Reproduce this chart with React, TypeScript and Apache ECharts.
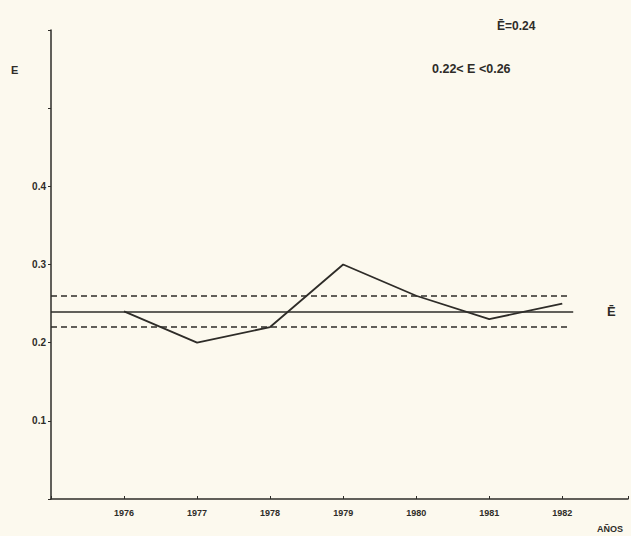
import React, { useEffect, useRef } from "react";
import * as echarts from "echarts";

const years = [1976, 1977, 1978, 1979, 1980, 1981, 1982];
const eValues = [0.24, 0.2, 0.22, 0.3, 0.26, 0.23, 0.25];
const meanE = 0.24;
const lowerE = 0.22;
const upperE = 0.26;
const yTickLabels = [0.1, 0.2, 0.3, 0.4];

const ink = "#2e2c28";

export default function App() {
  const ref = useRef<HTMLDivElement>(null);
  useEffect(() => {
    if (!ref.current) return;
    const chart = echarts.init(ref.current, null, { renderer: "svg" });
    const lineStart = 1975;
    const lineEnd = 1982.15;
    chart.setOption({
      animation: false,
      backgroundColor: "#fcf9ee",
      grid: { left: 51, right: 0, top: 30, bottom: 37 },
      xAxis: {
        type: "value",
        min: 1975,
        max: 1982.9,
        interval: 1,
        axisLine: { show: true, lineStyle: { color: ink, width: 1.5 } },
        axisTick: { show: true, length: 3, inside: true, lineStyle: { color: ink } },
        splitLine: { show: false },
        axisLabel: {
          color: ink,
          fontSize: 9,
          fontWeight: "bold",
          fontFamily: "Liberation Sans",
          margin: 9,
          formatter: (v: number) => (years.includes(Math.round(v)) && Math.abs(v - Math.round(v)) < 1e-6 ? String(Math.round(v)) : ""),
        },
      },
      yAxis: {
        type: "value",
        min: 0,
        max: 0.6,
        interval: 0.1,
        axisLine: { show: true, lineStyle: { color: ink, width: 1.5 } },
        axisTick: { show: true, length: 3, lineStyle: { color: ink } },
        splitLine: { show: false },
        axisLabel: {
          color: ink,
          fontSize: 10,
          fontWeight: "bold",
          fontFamily: "Liberation Sans",
          margin: 5,
          formatter: (v: number) => {
            const r = Math.round(v * 10) / 10;
            return yTickLabels.includes(r) ? r.toFixed(1) : "";
          },
        },
      },
      series: [
        {
          type: "line",
          data: years.map((y, i) => [y, eValues[i]]),
          symbol: "none",
          lineStyle: { color: ink, width: 1.8 },
          markLine: {
            silent: true,
            symbol: "none",
            data: [
              [
                { coord: [lineStart, meanE], lineStyle: { type: "solid", color: ink, width: 1.5 } },
                { coord: [lineEnd, meanE] },
              ],
              [
                { coord: [lineStart, upperE], lineStyle: { type: [6, 4], color: ink, width: 1.5 } },
                { coord: [lineEnd - 0.05, upperE] },
              ],
              [
                { coord: [lineStart, lowerE], lineStyle: { type: [6, 4], color: ink, width: 1.5 } },
                { coord: [lineEnd - 0.05, lowerE] },
              ],
            ],
            label: { show: false },
          },
        },
      ],
      graphic: [
        {
          type: "text",
          left: 11,
          top: 64,
          style: { text: "E", fill: ink, font: "bold 11px Liberation Sans" },
        },
        {
          type: "text",
          left: 607,
          top: 305,
          style: { text: "Ē", fill: ink, font: "bold 13px Liberation Sans" },
        },
        {
          type: "text",
          left: 497,
          top: 20,
          style: { text: "Ē=0.24", fill: ink, font: "bold 12px Liberation Sans" },
        },
        {
          type: "text",
          left: 432,
          top: 62,
          style: { text: "0.22< E <0.26", fill: ink, font: "bold 12.5px Liberation Sans" },
        },
        {
          type: "text",
          left: 597,
          top: 524,
          style: { text: "AÑOS", fill: ink, font: "bold 9px Liberation Sans" },
        },
      ],
    });
    return () => chart.dispose();
  }, []);
  return (
    <div
      ref={ref}
      style={{ position: "absolute", left: 0, top: 0, width: 631, height: 536 }}
    />
  );
}
